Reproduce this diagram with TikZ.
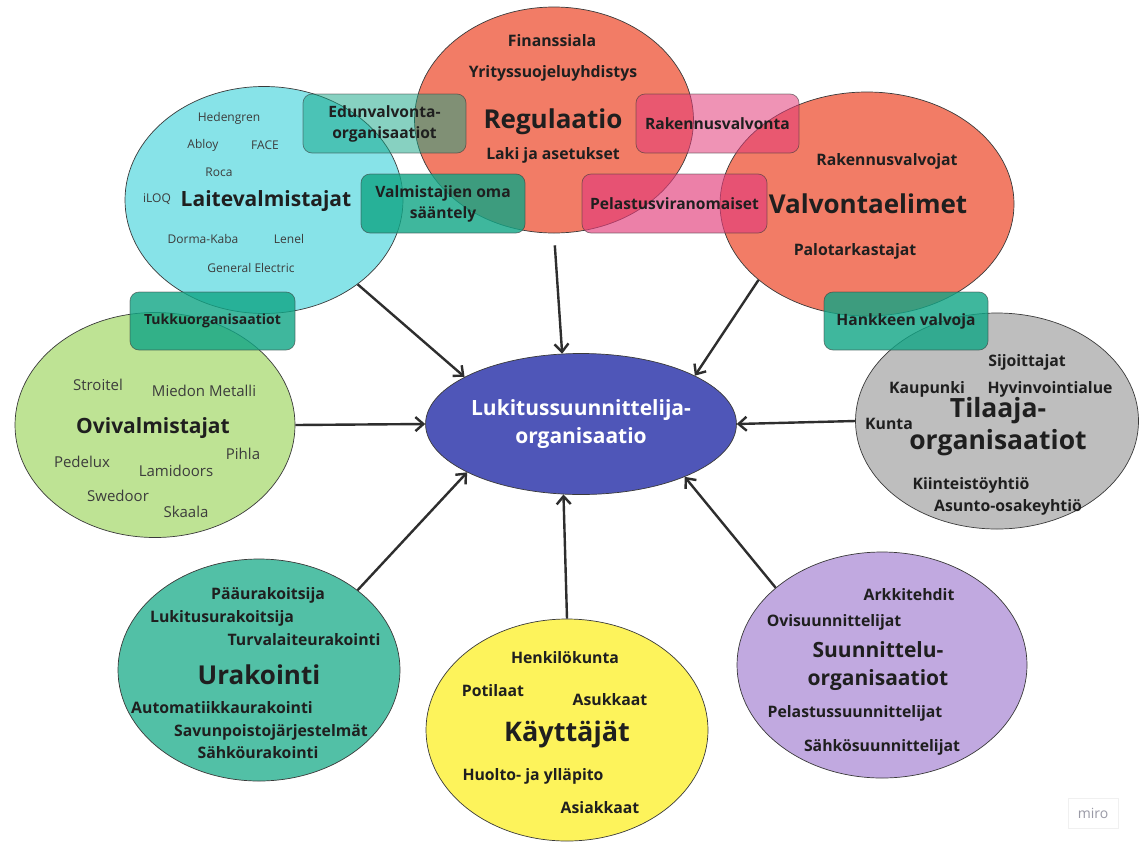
\documentclass[tikz,border=0pt]{standalone}
\usepackage{fontspec}
\setmainfont{Open Sans}
\usetikzlibrary{shapes.geometric,arrows.meta}

\definecolor{ink}{HTML}{1F1F1F}
\definecolor{brandink}{HTML}{3C3C3C}
\definecolor{rimgray}{HTML}{3A3A3A}
\definecolor{salmon}{HTML}{F27C66}
\definecolor{aqua}{HTML}{87E3E8}
\definecolor{lime}{HTML}{BEE394}
\definecolor{stone}{HTML}{BEBEBE}
\definecolor{jade}{HTML}{52C0A6}
\definecolor{lemon}{HTML}{FDF35B}
\definecolor{lilac}{HTML}{C1A9E0}
\definecolor{indigo}{HTML}{4F56B8}
\definecolor{tealtag}{HTML}{10A585}
\definecolor{pinktag}{HTML}{E23C7A}
\definecolor{arrowink}{HTML}{2E2E2E}
\definecolor{logoink}{HTML}{9A9AA6}

\tikzset{
  blob/.style={ellipse, draw=rimgray, line width=0.7pt, inner sep=0pt},
  tagbox/.style={rounded corners=9pt, draw=rimgray, draw opacity=0.6, line width=0.7pt,
    inner sep=0pt, text opacity=1, text=ink, align=center,
    font=\bfseries\fontsize{15.6}{21}\selectfont},
  tealbox/.style={tagbox, fill=tealtag, fill opacity=0.8},
  pinkbox/.style={tagbox, fill=pinktag, fill opacity=0.55},
  title/.style={inner sep=0pt, text=ink, align=center, font=\bfseries\fontsize{26}{32}\selectfont},
  midtitle/.style={inner sep=0pt, text=ink, align=center, font=\bfseries\fontsize{21}{28}\selectfont},
  item/.style={inner sep=0pt, text=ink, font=\bfseries\fontsize{15.8}{18}\selectfont},
  brand/.style={inner sep=0pt, text=brandink, font=\fontsize{12}{14}\selectfont},
  bigbrand/.style={inner sep=0pt, text=brandink, font=\fontsize{15}{17}\selectfont},
  conn/.style={draw=arrowink, line width=2.4pt, -{Straight Barb[length=8pt,width=14pt,line width=2.4pt]}}
}

\begin{document}
\begin{tikzpicture}[x=1pt,y=-1pt]
\useasboundingbox (0,0) rectangle (1139,841);
\fill[white] (0,0) rectangle (1139,841);

% ---- outer groups ----
\node[blob, fill=salmon, minimum width=279pt, minimum height=226pt] (reg) at (554,120) {};
\node[blob, fill=aqua,   minimum width=278pt, minimum height=227pt] (lait) at (264,200) {};
\node[blob, fill=salmon, minimum width=294pt, minimum height=224pt] (valv) at (867,204) {};
\node[blob, fill=lime,   minimum width=280pt, minimum height=225pt] (ovi) at (155,425) {};
\node[blob, fill=stone,  minimum width=283pt, minimum height=216pt] (til) at (997,421) {};
\node[blob, fill=jade,   minimum width=282pt, minimum height=222pt] (ura) at (259,670) {};
\node[blob, fill=lemon,  minimum width=282pt, minimum height=222pt] (kay) at (567,730) {};
\node[blob, fill=lilac,  minimum width=290pt, minimum height=226pt] (suu) at (882,665) {};

% ---- central organisation ----
\node[blob, fill=indigo, minimum width=310pt, minimum height=141pt, text=white, align=center,
  font=\bfseries\fontsize{21}{28}\selectfont] (hub) at (581,424) {Lukitussuunnittelija-\\organisaatio};

% ---- Regulaatio ----
\node[item] (fin) at (552,41) {Finanssiala};
\node[item] (yri) at (553,73) {Yrityssuojeluyhdistys};
\node[title] (regt) at (553,122) {Regulaatio};
\node[item] (laki) at (553,155) {Laki ja asetukset};

% ---- Valvontaelimet ----
\node[item] (rvj) at (887,161) {Rakennusvalvojat};
\node[title] (valvt) at (868,204) {Valvontaelimet};
\node[item] (palo) at (855,251) {Palotarkastajat};

% ---- Laitevalmistajat ----
\node[brand] (hed) at (229,118) {Hedengren};
\node[brand] (abl) at (203,145) {Abloy};
\node[brand] (face) at (265,145) {FACE};
\node[brand] (roca) at (219,172) {Roca};
\node[brand] (iloq) at (157,199) {iLOQ};
\node[midtitle] (laitt) at (266,201) {Laitevalmistajat};
\node[brand] (dor) at (203,239) {Dorma-Kaba};
\node[brand] (len) at (289,239) {Lenel};
\node[brand] (ge) at (251,268) {General Electric};

% ---- Ovivalmistajat ----
\node[bigbrand] (str) at (98,385) {Stroitel};
\node[bigbrand] (mie) at (204,391) {Miedon Metalli};
\node[midtitle] (ovit) at (153,428) {Ovivalmistajat};
\node[bigbrand] (ped) at (82,462) {Pedelux};
\node[bigbrand] (pih) at (243,454) {Pihla};
\node[bigbrand] (lam) at (176,471) {Lamidoors};
\node[bigbrand] (swe) at (118,496) {Swedoor};
\node[bigbrand] (ska) at (186,512) {Skaala};

% ---- Tilaaja-organisaatiot ----
\node[item] (sij) at (1027,362) {Sijoittajat};
\node[item] (kau) at (927,389) {Kaupunki};
\node[item] (hyv) at (1050,389) {Hyvinvointialue};
\node[title, font=\bfseries\fontsize{26.5}{32}\selectfont] (tilt) at (998,427) {Tilaaja-\\organisaatiot};
\node[item] (kun) at (889,424) {Kunta};
\node[item] (kii) at (971,485) {Kiinteistöyhtiö};
\node[item] (aso) at (1008,507) {Asunto-osakeyhtiö};

% ---- Urakointi ----
\node[item] (pu) at (268,595) {Pääurakoitsija};
\node[item] (lu) at (222,618) {Lukitusurakoitsija};
\node[item] (tu) at (304,640) {Turvalaiteurakointi};
\node[title] (urat) at (259,675) {Urakointi};
\node[item] (au) at (222,708) {Automatiikkaurakointi};
\node[item] (sav) at (271,732) {Savunpoistojärjestelmät};
\node[item] (sah) at (258,753) {Sähköurakointi};

% ---- Käyttäjät ----
\node[item] (hen) at (565,658) {Henkilökunta};
\node[item] (pot) at (493,691) {Potilaat};
\node[item] (asu) at (610,700) {Asukkaat};
\node[title, font=\bfseries\fontsize{27}{32}\selectfont] (kayt) at (567,734) {Käyttäjät};
\node[item] (huo) at (533,776) {Huolto- ja ylläpito};
\node[item] (asi) at (600,808) {Asiakkaat};

% ---- Suunnitteluorganisaatiot ----
\node[item] (ark) at (909,595) {Arkkitehdit};
\node[item] (ovs) at (834,622) {Ovisuunnittelijat};
\node[midtitle] (suut) at (878,666) {Suunnittelu-\\organisaatiot};
\node[item] (pel) at (855,713) {Pelastussuunnittelijat};
\node[item] (sas) at (882,747) {Sähkösuunnittelijat};

% ---- overlapping tags ----
\node[tagbox, fill=tealtag, fill opacity=0.5, minimum width=163pt, minimum height=59pt] (edu) at (384.5,123.5) {Edunvalvonta-\\organisaatiot};
\node[tealbox, minimum width=164pt, minimum height=59pt] (vos) at (443,203.5) {Valmistajien oma\\sääntely};
\node[pinkbox, minimum width=163pt, minimum height=59pt] (rkv) at (717.5,123.5) {Rakennusvalvonta};
\node[pinkbox, fill opacity=0.65, minimum width=185pt, minimum height=59pt] (pvo) at (674.5,203.5) {Pelastusviranomaiset};
\node[tealbox, minimum width=165pt, minimum height=58pt, font=\bfseries\fontsize{14}{16}\selectfont] (tuk) at (212.5,321) {Tukkuorganisaatiot};
\node[tealbox, minimum width=164pt, minimum height=58pt] (hav) at (906,321) {Hankkeen valvoja};

% ---- connectors into the central organisation ----
\draw[conn] (lait.-42.8) -- (hub.158.9);
\draw[conn, shorten <=12pt] (reg.south) -- (hub.105.5);
\draw[conn] (valv.215.7) -- (hub.23.3);
\draw[conn] (ovi.east) -- (hub.west);
\draw[conn] (til.west) -- (hub.east);
\draw[conn] (ura.39.8) -- (hub.203.4);
\draw[conn] (kay.north) -- (hub.256.7);
\draw[conn] (suu.144.8) -- (hub.-27.3);

% ---- logo mark ----
\node[draw=black!6, line width=0.6pt, minimum width=50pt, minimum height=30pt, inner sep=0pt,
  text=logoink, font=\fontsize{14}{16}\selectfont] (logo) at (1093,813) {miro};
\end{tikzpicture}
\end{document}
